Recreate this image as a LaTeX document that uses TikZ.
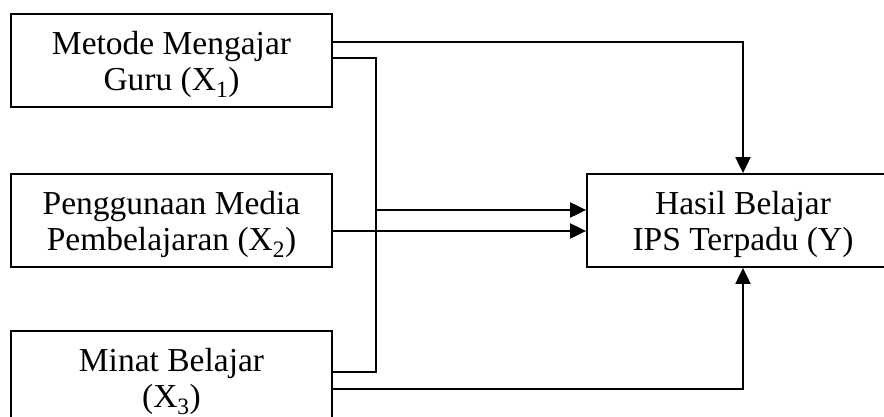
\documentclass[tikz,border=0pt]{standalone}
\usepackage{fontspec}
\setmainfont{Liberation Serif}
\usetikzlibrary{arrows.meta}
\begin{document}
\begin{tikzpicture}[x=1pt,y=-1pt,
  var/.style={draw,line width=1.8pt,minimum width=321pt,minimum height=93pt,
    inner sep=0pt},
  caption/.style={align=center,inner sep=0pt,yshift=-4pt,
    font=\fontsize{33.5}{36}\selectfont},
  link/.style={line width=2pt},
  arr/.style={line width=2pt,-{Triangle[length=16pt,width=15pt]}}]
\clip (0,0) rectangle (884,417);
\fill[white] (0,0) rectangle (884,417);

% independent variables
\node[var] (x1) at (171.5,60.5) {};
\node[var] (x2) at (171.5,220.5) {};
\node[var] (x3) at (171.5,377.5) {};
\node[caption] (x1t) at (x1) {Metode Mengajar\\Guru (X\textsubscript{1})};
\node[caption] (x2t) at (x2) {Penggunaan Media\\Pembelajaran (X\textsubscript{2})};
\node[caption] (x3t) at (x3) {Minat Belajar\\(X\textsubscript{3})};

% dependent variable
\node[var,minimum width=312pt] (y) at (743,220.5) {};
\node[caption] (yt) at (y) {Hasil Belajar\\IPS Terpadu (Y)};

% shared vertical line joining X1 and X3
\coordinate (x1out) at ([yshift=2.5pt]x1.east);
\coordinate (bus) at ([xshift=43pt]x1out);
\coordinate (yin) at ([yshift=10.5pt]y.west);

% direct effects
\draw[arr] ([yshift=18.5pt]x1.east) -| (y.north);
\draw[arr] ([yshift=-10.5pt]x2.east) -- ([yshift=-10.5pt]y.west);
\draw[arr] ([yshift=-11.5pt]x3.east) -| (y.south);

% joint effect
\draw[link] (x1out) -- (bus) |- ([yshift=5.5pt]x3.east);
\draw[arr] (bus |- yin) -- (yin);
\end{tikzpicture}
\end{document}
